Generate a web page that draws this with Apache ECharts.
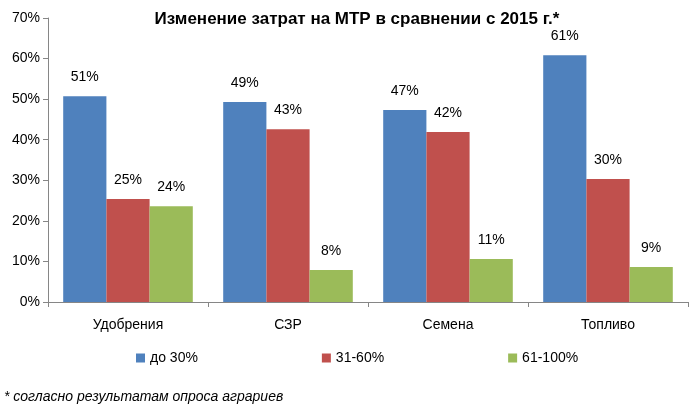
<!DOCTYPE html>
<html><head><meta charset="utf-8">
<script src="https://cdn.jsdelivr.net/npm/echarts@6/dist/echarts.min.js"></script>
<style>html,body{margin:0;padding:0;background:#fff}#c{width:695px;height:414px}</style>
</head><body><div id="c"></div>
<script>
const categories = ['Удобрения', 'СЗР', 'Семена', 'Топливо'];
const seriesNames = ['до 30%', '31-60%', '61-100%'];
const upTo30 = [50.7, 49.3, 47.3, 60.8];
const from31to60 = [25.4, 42.6, 41.9, 30.3];
const from61to100 = [23.6, 7.9, 10.6, 8.6];
const yTicks = [0, 10, 20, 30, 40, 50, 60, 70];
const colors = ['#4F81BD', '#C0504D', '#9BBB59'];
const FONT = '"Liberation Sans", Arial, sans-serif';

const chart = echarts.init(document.getElementById('c'));
const mk = (name, data, color) => ({
  name, type: 'bar', data, barGap: '0%', barCategoryGap: '19%',
  itemStyle: { color },
  label: { show: true, position: 'top', distance: 12, color: '#000', fontSize: 14, fontFamily: FONT,
    formatter: p => Math.round(p.value) + '%' }
});
chart.setOption({
  animation: false,
  title: { text: 'Изменение затрат на МТР в сравнении с 2015 г.*', left: 352, top: 6, textAlign: 'center',
    textStyle: { fontFamily: FONT, fontSize: 17, fontWeight: 'bold', color: '#000' } },
  legend: { bottom: 44, left: 131, itemWidth: 9, itemHeight: 9, itemGap: 124,
    icon: 'rect', textStyle: { fontFamily: FONT, fontSize: 14, color: '#000' }, data: seriesNames },
  graphic: [{ type: 'text', left: 4, top: 390, style: { text: '* согласно результатам опроса аграриев',
    font: 'italic 14px ' + FONT, fill: '#000' } }],
  grid: { left: 48, right: 7, top: 18, bottom: 112 },
  xAxis: { type: 'category', data: categories,
    axisLine: { lineStyle: { color: '#868686' } },
    axisTick: { show: true, length: 5, lineStyle: { color: '#868686' } },
    axisLabel: { fontFamily: FONT, fontSize: 14, color: '#000', margin: 16 } },
  yAxis: { type: 'value', min: 0, max: 70, interval: 10,
    axisLine: { show: true, lineStyle: { color: '#868686' } },
    axisTick: { show: true, length: 5, lineStyle: { color: '#868686' } },
    splitLine: { show: false },
    axisLabel: { fontFamily: FONT, fontSize: 14, color: '#000', margin: 8,
      formatter: v => yTicks.includes(v) ? v + '%' : '' } },
  series: [mk(seriesNames[0], upTo30, colors[0]), mk(seriesNames[1], from31to60, colors[1]), mk(seriesNames[2], from61to100, colors[2])]
});
</script></body></html>
